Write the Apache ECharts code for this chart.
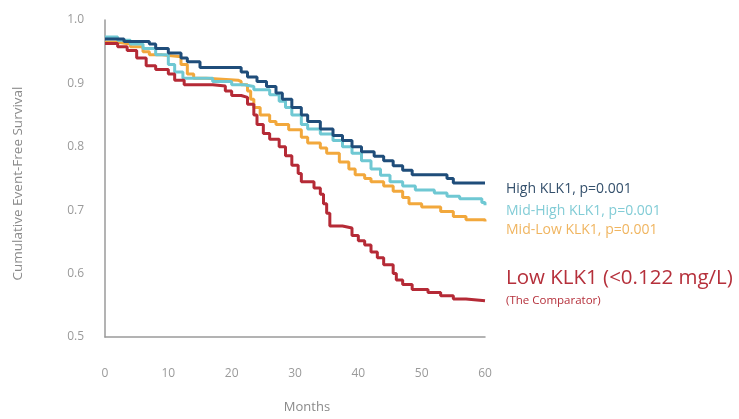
<!DOCTYPE html>
<html>
<head>
<meta charset="utf-8">
<script src="https://cdn.jsdelivr.net/npm/echarts@6/dist/echarts.min.js"></script>
<style>
html,body{margin:0;padding:0;background:#fff;}
#chart{width:739px;height:419px;}
</style>
</head>
<body>
<div id="chart"></div>
<script>
// [month, cumulative event-free survival]
const highKLK1 = [[0,0.970],[3,0.966],[7,0.962],[8,0.955],[10,0.948],[12,0.940],[13,0.934],[15,0.925],[21.5,0.918],[22.5,0.910],[24,0.903],[25.5,0.895],[27,0.885],[28,0.875],[29.5,0.862],[31,0.850],[32,0.840],[34,0.828],[36,0.818],[37.5,0.810],[39,0.800],[40.5,0.792],[42.5,0.785],[44,0.778],[45.5,0.770],[47,0.763],[48.5,0.756],[54,0.750],[55,0.743],[60,0.743]];
const midHighKLK1 = [[0,0.973],[2,0.968],[4,0.962],[6,0.955],[8,0.945],[10,0.930],[11,0.918],[12.3,0.908],[17,0.903],[20,0.898],[22,0.895],[23.5,0.890],[26,0.882],[27.5,0.872],[28.5,0.862],[29.5,0.850],[31,0.835],[32,0.828],[34,0.820],[36,0.810],[37.5,0.800],[39,0.790],[40.5,0.778],[42,0.765],[43.5,0.755],[45,0.745],[47,0.738],[49,0.732],[52,0.727],[54,0.722],[56,0.718],[59.5,0.712],[60,0.708]];
const midLowKLK1 = [[0,0.965],[2,0.962],[4,0.958],[6,0.950],[7,0.945],[9,0.942],[12,0.930],[13,0.915],[14,0.908],[16,0.905],[21,0.903],[21.5,0.898],[22.5,0.888],[23,0.875],[23.5,0.862],[24.5,0.850],[26,0.840],[27,0.835],[29,0.827],[31,0.815],[32,0.806],[34,0.798],[35,0.790],[37,0.776],[38.5,0.765],[39.5,0.756],[41,0.750],[42,0.745],[44,0.738],[45.5,0.730],[47,0.720],[48,0.710],[50,0.705],[53,0.698],[55,0.690],[57,0.685],[60,0.682]];
const lowKLK1 = [[0,0.963],[2,0.958],[3.5,0.952],[5,0.940],[6.5,0.928],[8,0.922],[10,0.915],[11,0.905],[12.5,0.898],[17,0.896],[19,0.888],[20,0.881],[21.5,0.878],[22.5,0.867],[23.5,0.850],[24,0.835],[25,0.821],[26,0.812],[27.5,0.800],[28.5,0.786],[29.5,0.771],[30.5,0.758],[31,0.745],[33,0.735],[34,0.725],[34.5,0.710],[35,0.695],[35.5,0.675],[37.5,0.672],[39,0.660],[40,0.652],[41,0.645],[42,0.634],[43,0.625],[44,0.614],[45.5,0.600],[46,0.590],[47,0.583],[48.5,0.575],[51,0.570],[53,0.565],[55,0.560],[57,0.557],[60,0.556]];

const seriesNames = ['High KLK1, p=0.001','Mid-High KLK1, p=0.001','Mid-Low KLK1, p=0.001','Low KLK1 (<0.122 mg/L)'];
const comparatorNote = '(The Comparator)';
const xTitle = 'Months';
const yTitle = 'Cumulative Event-Free Survival';

const colors = ['#1f4d7a','#6fc8d3','#f2a83c','#b52a36'];
const textColors = ['#34506c','#82ccd6','#f0b560','#b5303b'];
const FONT = '"Open Sans", sans-serif';

const chart = echarts.init(document.getElementById('chart'));
function mk(name, data, color){
  return {name, type:'line', step:'end', data, symbol:'none', lineStyle:{color, width:3}, itemStyle:{color}, animation:false};
}
function label(text, y, size, color){
  return {type:'text', x:506, y, style:{text, fill:color, font:size+'px '+FONT, verticalAlign:'middle', align:'left'}};
}
chart.setOption({
  animation:false,
  grid:{left:105, right:254, top:20, bottom:72},
  xAxis:{
    type:'value', min:0, max:60, interval:10,
    name:xTitle, nameLocation:'middle', nameGap:64,
    nameTextStyle:{color:'#8a8a8a', fontSize:13, fontFamily:FONT, padding:[0,0,0,24]},
    axisLine:{show:true, lineStyle:{color:'#9a9a9a', width:1.5}},
    axisTick:{show:false},
    splitLine:{show:false},
    axisLabel:{color:'#9a9a9a', fontSize:12, fontFamily:FONT, margin:31}
  },
  yAxis:{
    type:'value', min:0.5, max:1.0, interval:0.1,
    name:yTitle, nameLocation:'middle', nameGap:80,
    nameTextStyle:{color:'#8a8a8a', fontSize:13.5, fontFamily:FONT, padding:[0,0,0,-10]},
    axisLine:{show:true, lineStyle:{color:'#9a9a9a', width:1.5}},
    axisTick:{show:false},
    splitLine:{show:false},
    axisLabel:{color:'#9a9a9a', fontSize:12, fontFamily:FONT, margin:21, formatter:v=>v.toFixed(1)}
  },
  series:[
    mk(seriesNames[2], midLowKLK1, colors[2]),
    mk(seriesNames[1], midHighKLK1, colors[1]),
    mk(seriesNames[0], highKLK1, colors[0]),
    mk(seriesNames[3], lowKLK1, colors[3])
  ],
  graphic:[
    label(seriesNames[0], 189, 14, textColors[0]),
    label(seriesNames[1], 211, 14, textColors[1]),
    label(seriesNames[2], 230, 14, textColors[2]),
    label(seriesNames[3], 278, 20.5, textColors[3]),
    label(comparatorNote, 301, 11.5, textColors[3])
  ]
});
</script>
</body>
</html>
